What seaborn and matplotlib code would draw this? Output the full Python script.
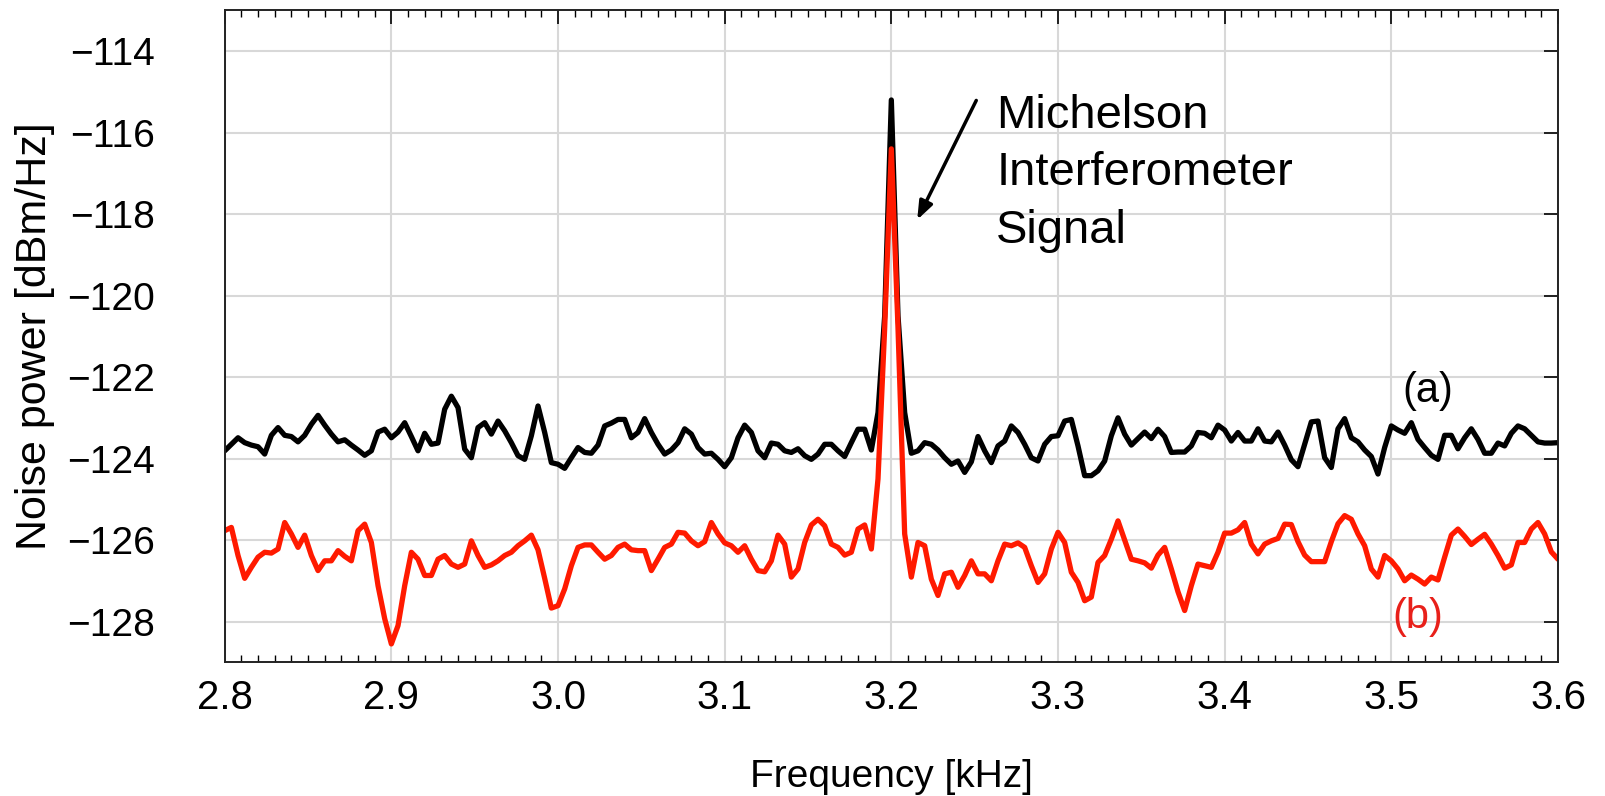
import numpy as np
import pandas as pd
import matplotlib
matplotlib.use("Agg")
import matplotlib.pyplot as plt
import seaborn as sns

# frequency grid: 4 Hz steps from 2.8 to 3.6 kHz
freq_khz = np.linspace(2.8, 3.6, 201)

# (a) Michelson interferometer trace [dBm/Hz]
noise_a = [
    -123.81, -123.65, -123.49, -123.61, -123.67, -123.71, -123.89, -123.43, -123.24, -123.43,
    -123.46, -123.59, -123.43, -123.16, -122.94, -123.18, -123.40, -123.59, -123.54, -123.67,
    -123.79, -123.92, -123.81, -123.35, -123.28, -123.49, -123.35, -123.12, -123.46, -123.81,
    -123.38, -123.65, -123.62, -122.79,
    -122.47, -122.75, -123.77, -123.98, -123.24, -123.12, -123.40, -123.08, -123.32, -123.61,
    -123.93, -124.02, -123.44, -122.71, -123.36, -124.10, -124.14, -124.24, -123.98, -123.73,
    -123.85, -123.87, -123.67, -123.20, -123.13, -123.04, -123.04, -123.49, -123.36, -123.02,
    -123.36, -123.65, -123.89,
    -123.79, -123.61, -123.27, -123.40, -123.73, -123.89, -123.87, -124.02, -124.20, -123.98,
    -123.49, -123.18, -123.36, -123.81, -123.98, -123.62, -123.65, -123.81, -123.85, -123.76,
    -123.93, -124.02, -123.89, -123.65, -123.65, -123.81, -123.95, -123.61, -123.28, -123.28,
    -123.79,
    -122.87, -120.5, -115.2, -120.5, -122.87,
    -123.87, -123.81, -123.61, -123.65, -123.79, -123.98, -124.14, -124.06, -124.34, -124.08,
    -123.46, -123.81, -124.10, -123.69, -123.57, -123.20, -123.36, -123.65, -123.98, -124.06,
    -123.65, -123.46, -123.44, -123.08, -123.04, -123.69, -124.42, -124.42, -124.30, -124.06,
    -123.44,
    -123.00, -123.40, -123.67, -123.51, -123.35, -123.51, -123.28, -123.46, -123.85, -123.84,
    -123.84, -123.69, -123.36, -123.38, -123.49, -123.18, -123.30, -123.57, -123.36, -123.57,
    -123.57, -123.27, -123.57, -123.59, -123.35, -123.67, -124.03, -124.20, -123.65, -123.10,
    -123.08, -123.98, -124.22,
    -123.27, -123.02, -123.49, -123.59, -123.79, -123.95, -124.38, -123.73, -123.20, -123.30,
    -123.38, -123.12, -123.53, -123.73, -123.92, -124.02, -123.43, -123.43, -123.76, -123.49,
    -123.27, -123.53, -123.87, -123.87, -123.62, -123.69, -123.38, -123.20, -123.27, -123.43,
    -123.59, -123.62, -123.62, -123.61,
]

# (b) second trace [dBm/Hz]
noise_b = [
    -125.77, -125.69, -126.38, -126.94, -126.67, -126.42, -126.30, -126.32, -126.22, -125.57,
    -125.85, -126.18, -125.88, -126.38, -126.75, -126.51, -126.51, -126.26, -126.40, -126.51,
    -125.77, -125.61, -126.06, -127.12, -127.93, -128.55, -128.10, -127.12, -126.30, -126.47,
    -126.87, -126.87, -126.47, -126.38,
    -126.59, -126.67, -126.59, -126.02, -126.38, -126.67, -126.61, -126.51, -126.38, -126.30,
    -126.14, -126.02, -125.88, -126.24, -126.94, -127.67, -127.61, -127.20, -126.63, -126.18,
    -126.12, -126.12, -126.30, -126.47, -126.38, -126.18, -126.10, -126.24, -126.26, -126.26,
    -126.75, -126.47, -126.18,
    -126.10, -125.81, -125.83, -126.02, -126.14, -126.04, -125.57, -125.85, -126.07, -126.14,
    -126.30, -126.14, -126.47, -126.75, -126.78, -126.51, -125.88, -126.10, -126.91, -126.71,
    -126.06, -125.63, -125.49, -125.65, -126.10, -126.18, -126.37, -126.30, -125.73, -125.63,
    -126.22,
    -124.5, -120.8, -116.4, -120.8, -125.85,
    -126.91, -126.06, -126.14, -126.96, -127.36, -126.83, -126.79, -127.16, -126.87, -126.51,
    -126.83, -126.83, -127.00, -126.51, -126.10, -126.14, -126.07, -126.18, -126.63, -127.04,
    -126.83, -126.22, -125.81, -126.06, -126.79, -127.04, -127.49, -127.40, -126.55, -126.38,
    -125.98,
    -125.53, -126.00, -126.47, -126.51, -126.56, -126.69, -126.37, -126.18, -126.71, -127.27,
    -127.73, -127.12, -126.59, -126.63, -126.67, -126.30, -125.83, -125.83, -125.75, -125.57,
    -126.10, -126.34, -126.10, -126.02, -125.96, -125.61, -125.62, -126.04, -126.37, -126.53,
    -126.53, -126.53, -126.04,
    -125.60, -125.40, -125.49, -125.85, -126.14, -126.71, -126.91, -126.38, -126.51, -126.71,
    -127.00, -126.86, -126.96, -127.08, -126.91, -126.98, -126.42, -125.88, -125.73, -125.91,
    -126.11, -125.98, -125.86, -126.10, -126.38, -126.69, -126.61, -126.06, -126.06, -125.73,
    -125.57, -125.85, -126.29, -126.47,
]

x_ticks = [2.8, 2.9, 3.0, 3.1, 3.2, 3.3, 3.4, 3.5, 3.6]
y_ticks = [-128, -126, -124, -122, -120, -118, -116, -114]

df = pd.DataFrame({"freq": freq_khz, "a": noise_a, "b": noise_b})

sns.set_style("white")
plt.rcParams["font.family"] = ["Liberation Sans", "DejaVu Sans"]
plt.rcParams["text.color"] = "black"
plt.rcParams["axes.labelcolor"] = "black"
plt.rcParams["xtick.color"] = "black"
plt.rcParams["ytick.color"] = "black"

fig = plt.figure(figsize=(16.05, 7.96), dpi=100)
ax = fig.add_axes([0.140, 0.168, 0.8307, 0.819])

sns.lineplot(data=df, x="freq", y="a", color="black", lw=3.8, ax=ax)
sns.lineplot(data=df, x="freq", y="b", color="#ff1a00", lw=3.8, ax=ax)

ax.set_xlim(2.8, 3.6)
ax.set_ylim(-129, -113)
ax.set_xticks(x_ticks)
ax.set_xticklabels([f"{t:.1f}" for t in x_ticks])
ax.set_yticks(y_ticks)
ax.set_xticks(np.arange(2.8, 3.6001, 0.01), minor=True)
ax.grid(True, which="major", color="#d8d8d8", lw=1.5)
ax.set_axisbelow(True)
for s in ax.spines.values():
    s.set_color("#222222")
    s.set_linewidth(1.4)
ax.tick_params(axis="both", which="major", direction="in", length=10, width=1.2,
               top=True, right=True)
ax.tick_params(axis="x", which="major", labelsize=29, pad=12)
ax.tick_params(axis="y", which="major", labelsize=28, pad=50)
ax.tick_params(axis="x", which="minor", direction="in", length=5, width=1,
               top=True, bottom=True)

ax.set_xlabel("Frequency [kHz]", fontsize=28, labelpad=30)
ax.set_ylabel("Noise power [dBm/Hz]", fontsize=31)
ax.yaxis.set_label_coords(-0.127, 0.5)

ax.annotate("", xy=(3.2148, -118.2), xytext=(3.2517, -115.15),
            arrowprops=dict(arrowstyle="-|>,head_length=1.1,head_width=0.42",
                            color="black", lw=2.5))
ax.text(3.263, -115.05, "Michelson\nInterferometer\nSignal", fontsize=34,
        ha="left", va="top", linespacing=1.4)
ax.text(3.522, -122.33, "(a)", fontsize=30, ha="center", va="center", color="black")
ax.text(3.516, -127.9, "(b)", fontsize=30, ha="center", va="center", color="#e8201a")

fig.savefig("out.png", dpi=100)
